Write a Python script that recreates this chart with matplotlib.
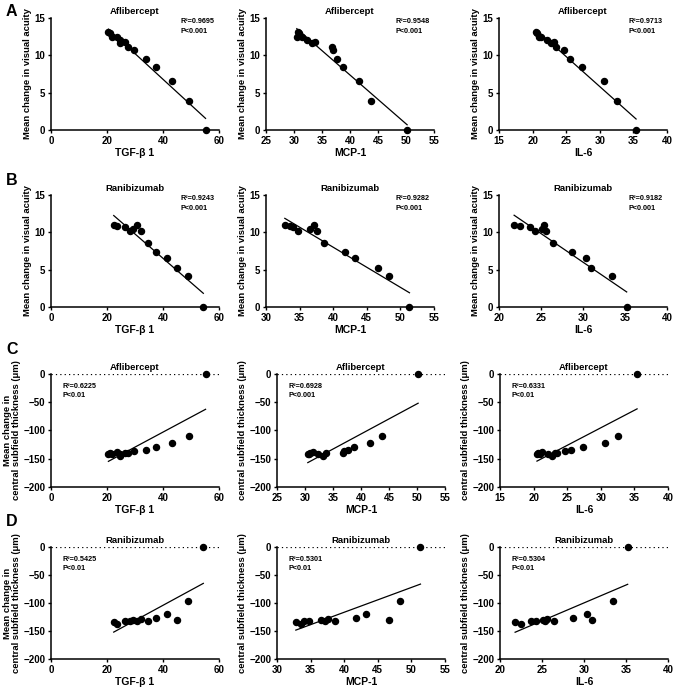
import matplotlib
matplotlib.use('Agg')
import matplotlib.pyplot as plt
import numpy as np

plt.rcParams['font.family'] = ['Liberation Sans', 'DejaVu Sans']
plt.rcParams['font.weight'] = 'bold'

# Aflibercept group (same patient order in every list)
afl_tgf = [20.5, 21.2, 21.8, 23.6, 24.5, 24.6, 26.3, 27.6, 29.6, 33.8, 37.5, 43.3, 49.3, 55.2]
afl_mcp = [30.8, 30.9, 30.5, 31.4, 32.3, 33.2, 33.8, 36.7, 36.9, 37.6, 38.7, 41.6, 43.8, 50.2]
afl_il6 = [20.5, 20.6, 20.9, 21.3, 22.1, 22.7, 23.2, 23.5, 24.7, 25.6, 27.4, 30.6, 32.5, 35.4]
afl_va = [13.1, 13.0, 12.5, 12.5, 12.0, 11.6, 11.8, 11.1, 10.7, 9.55, 8.5, 6.55, 3.9, 0.0]
afl_cst = [-141, -140, -141, -137.7, -142, -146, -140, -140, -136, -134.7, -130, -123, -110, 0]

# Ranibizumab group
ran_tgf = [22.4, 23.5, 26.3, 28.3, 29.2, 30.6, 32.1, 34.8, 37.6, 41.5, 45.0, 48.8, 54.4]
ran_mcp = [32.8, 33.5, 34.0, 34.8, 36.5, 37.15, 37.6, 38.7, 41.7, 43.2, 46.6, 48.3, 51.35]
ran_il6 = [21.8, 22.5, 23.65, 24.3, 25.1, 25.35, 25.6, 26.4, 28.7, 30.4, 31.0, 33.4, 35.2]
ran_va = [10.95, 10.85, 10.65, 10.2, 10.4, 10.95, 10.15, 8.6, 7.3, 6.6, 5.25, 4.2, 0.0]
ran_cst = [-134, -137, -132, -133, -130, -132, -128.6, -132, -126, -120, -130, -97, 0]

# r squared / p text per panel (rows A-D, columns TGF, MCP, IL-6)
r2_text = [['0.9695', '0.9548', '0.9713'],
           ['0.9243', '0.9282', '0.9182'],
           ['0.6225', '0.6928', '0.6331'],
           ['0.5425', '0.5301', '0.5304']]
p_text = [['P<0.001', 'P<0.001', 'P<0.001'],
          ['P<0.001', 'P<0.001', 'P<0.001'],
          ['P<0.01', 'P<0.001', 'P<0.01'],
          ['P<0.01', 'P<0.01', 'P<0.01']]

cyto_names = ['TGF-β 1', 'MCP-1', 'IL-6']
xlims = [[(0, 60), (25, 55), (15, 40)],
         [(0, 60), (30, 55), (20, 40)],
         [(0, 60), (25, 55), (15, 40)],
         [(0, 60), (30, 55), (20, 40)]]
xsteps = [20, 5, 5]

rows = [
    ('Aflibercept', [afl_tgf, afl_mcp, afl_il6], afl_va),
    ('Ranibizumab', [ran_tgf, ran_mcp, ran_il6], ran_va),
    ('Aflibercept', [afl_tgf, afl_mcp, afl_il6], afl_cst),
    ('Ranibizumab', [ran_tgf, ran_mcp, ran_il6], ran_cst),
]

fig = plt.figure(figsize=(6.77, 6.9), dpi=100)

W, H = 677.0, 690.0
row_px = [(18, 130), (195, 307), (374, 487), (547, 659)]
col_px_ab = [51, 266, 499]
col_px_cd = [51, 277, 500]
axw = 168

letters = ['A', 'B', 'C', 'D']
letter_y = [12, 180, 350, 522]

for r, (drug, xs, ys) in enumerate(rows):
    top, bot = row_px[r]
    cols = col_px_ab if r < 2 else col_px_cd
    for c in range(3):
        ax = fig.add_axes([cols[c] / W, 1 - bot / H, axw / W, (bot - top) / H])
        x = np.array(xs[c])
        y = np.array(ys)
        ax.scatter(x, y, s=19, color='black', zorder=3, clip_on=False)
        k, b = np.polyfit(x, y, 1)
        xx = np.array([x.min(), x.max()])
        ax.plot(xx, k * xx + b, color='black', lw=0.9)

        ax.set_xlim(*xlims[r][c])
        ax.set_xticks(np.arange(xlims[r][c][0], xlims[r][c][1] + 0.1, xsteps[c]))
        if r < 2:
            ax.set_ylim(0, 15)
            ax.set_yticks([0, 5, 10, 15])
            ax.text(0.77, 0.97, 'R²=' + r2_text[r][c], transform=ax.transAxes,
                    fontsize=5.2, va='center')
            ax.text(0.77, 0.88, p_text[r][c], transform=ax.transAxes,
                    fontsize=5.2, va='center')
            ax.set_ylabel('Mean change in visual acuity', fontsize=6.8,
                          fontweight='bold', labelpad=2)
        else:
            ax.set_ylim(-200, 0)
            ax.set_yticks([0, -50, -100, -150, -200])
            ax.axhline(0, color='black', ls=(0, (1, 2.5)), lw=0.9)
            ax.text(0.07, 0.89, 'R²=' + r2_text[r][c], transform=ax.transAxes,
                    fontsize=5.2, va='center')
            ax.text(0.07, 0.81, p_text[r][c], transform=ax.transAxes,
                    fontsize=5.2, va='center')
            if c == 0:
                lab = 'Mean change in\ncentral subfield thickness (μm)'
            else:
                lab = 'central subfield thickness (μm)'
            ax.set_ylabel(lab, fontsize=6.8, fontweight='bold', labelpad=2,
                          linespacing=1.0)

        ax.set_title(drug, fontsize=6.8, fontweight='bold', pad=3)
        ax.set_xlabel(cyto_names[c], fontsize=7.5, fontweight='bold', labelpad=2)

        for s in ['top', 'right']:
            ax.spines[s].set_visible(False)
        for s in ['left', 'bottom']:
            ax.spines[s].set_linewidth(1.1)
        ax.tick_params(direction='out', length=2.5, width=1, labelsize=7, pad=1.5)
        for lbl in ax.get_xticklabels() + ax.get_yticklabels():
            lbl.set_fontweight('bold')

    fig.text(6 / W, 1 - letter_y[r] / H, letters[r], fontsize=11.5,
             fontweight='bold', va='center', ha='left')

fig.savefig('out.png', dpi=100)
